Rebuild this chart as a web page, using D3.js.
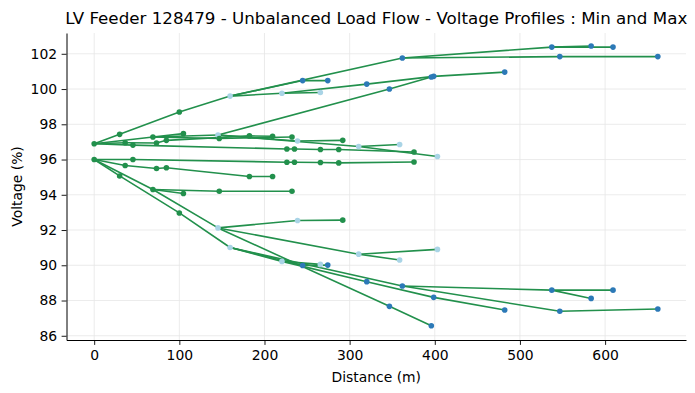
<!DOCTYPE html>
<html>
<head>
<meta charset="utf-8">
<script src="https://cdn.jsdelivr.net/npm/d3@7"></script>
<style>
  body { margin: 0; background: #fff; }
  text { font-family: "DejaVu Sans", sans-serif; fill: #000; }
</style>
</head>
<body>
<svg id="chart"></svg>
<script>
const width = 695;
const height = 393;
const margin = {left: 66.5, right: 9, top: 33, bottom: 53};

// one entry per bus: distance from source, voltage in max / min case, zone, parent bus
const busDist = [0, 29.9, 100, 159.6, 220.5, 265.6, 244.8, 274.3, 361.9, 537.4,
  583.6, 609.3, 546.8, 661.9, 320.1, 398.7, 482.1, 69, 145.4, 346.7,
  395.9, 104.8, 146.9, 232.3, 238.8, 291.9, 310.6, 358.7, 403.1, 45.5,
  226.3, 235.2, 265.7, 287.2, 375.6, 36.4, 73.2, 84.8, 182.3, 209.5];
const busVmax = [96.9, 97.43, 98.70, 99.60, 99.76, 99.80, 100.48, 100.48, 101.76, 102.38,
  102.44, 102.38, 101.84, 101.84, 100.28, 100.72, 100.96, 97.28, 97.39, 100.0,
  100.68, 97.47, 97.19, 97.28, 97.05, 97.09, 96.74, 96.85, 96.17, 96.82,
  96.60, 96.60, 96.57, 96.57, 96.43, 96.95, 96.94, 97.09, 97.34, 97.32];
const busVmin = [96.0, 95.07, 92.97, 91.01, 90.22, 90.05, 89.99, 90.01, 88.82, 88.59,
  88.12, 88.59, 87.39, 87.52, 89.07, 88.18, 87.46, 94.30, 92.12, 87.67,
  86.57, 94.07, 94.20, 94.20, 92.54, 92.56, 90.63, 90.30, 90.90, 96.0,
  95.85, 95.85, 95.83, 95.81, 95.86, 95.66, 95.49, 95.53, 95.04, 95.04];
const busZone = [0, 0, 0, 1, 1, 1, 2, 2, 2, 2,
  2, 2, 2, 2, 2, 2, 2, 0, 1, 2,
  2, 0, 0, 0, 1, 0, 1, 1, 1, 0,
  0, 0, 0, 0, 0, 0, 0, 0, 0, 0];
const busParent = [-1, 0, 1, 2, 3, 4, 3, 6, 3, 8,
  9, 9, 8, 12, 4, 14, 15, 0, 17, 18,
  19, 17, 17, 22, 18, 24, 18, 26, 26, 0,
  29, 30, 31, 32, 33, 0, 35, 36, 37, 38];

const xTicks = [0, 100, 200, 300, 400, 500, 600];
const yTicks = [86, 88, 90, 92, 94, 96, 98, 100, 102];
const zoneColors = ['#22904c', '#a9d4e6', '#2c79b7'];
const lineColor = '#22904c';

const svg = d3.select('#chart')
  .attr('width', width)
  .attr('height', height);

const x = d3.scaleLinear()
  .domain([-32.5, 695])
  .range([margin.left, width - margin.right]);

const y = d3.scaleLinear()
  .domain([85.76, 103.18])
  .range([height - margin.bottom, margin.top]);

// grid
svg.append('g')
  .selectAll('line')
  .data(xTicks)
  .join('line')
  .attr('x1', d => x(d)).attr('x2', d => x(d))
  .attr('y1', margin.top).attr('y2', height - margin.bottom)
  .attr('stroke', '#e6e6e6').attr('stroke-width', 0.8);

svg.append('g')
  .selectAll('line')
  .data(yTicks)
  .join('line')
  .attr('x1', margin.left).attr('x2', width - margin.right)
  .attr('y1', d => y(d)).attr('y2', d => y(d))
  .attr('stroke', '#e6e6e6').attr('stroke-width', 0.8);

// branches: each bus linked to its parent, for both cases
const edges = [];
busParent.forEach((p, i) => {
  if (p < 0) return;
  edges.push({x1: busDist[p], y1: busVmax[p], x2: busDist[i], y2: busVmax[i]});
  edges.push({x1: busDist[p], y1: busVmin[p], x2: busDist[i], y2: busVmin[i]});
});

svg.append('g')
  .selectAll('line')
  .data(edges)
  .join('line')
  .attr('x1', d => x(d.x1)).attr('y1', d => y(d.y1))
  .attr('x2', d => x(d.x2)).attr('y2', d => y(d.y2))
  .attr('stroke', lineColor)
  .attr('stroke-width', 1.6)
  .attr('stroke-linecap', 'round');

const dots = [];
busDist.forEach((d, i) => {
  dots.push({d: d, v: busVmax[i], z: busZone[i]});
  dots.push({d: d, v: busVmin[i], z: busZone[i]});
});

svg.append('g')
  .selectAll('circle')
  .data(dots)
  .join('circle')
  .attr('cx', d => x(d.d))
  .attr('cy', d => y(d.v))
  .attr('r', 2.8)
  .attr('fill', d => zoneColors[d.z]);

// axes
const xAxis = d3.axisBottom(x).tickValues(xTicks).tickSize(4.9).tickPadding(5).tickSizeOuter(0);
const yAxis = d3.axisLeft(y).tickValues(yTicks).tickSize(4.9).tickPadding(4.5).tickSizeOuter(0);

const gx = svg.append('g')
  .attr('transform', `translate(0, ${height - margin.bottom})`)
  .call(xAxis);
const gy = svg.append('g')
  .attr('transform', `translate(${margin.left}, 0)`)
  .call(yAxis);

[gx, gy].forEach(g => {
  g.selectAll('text').attr('font-size', 13.9).attr('font-family', '"DejaVu Sans", sans-serif');
  g.selectAll('line').attr('stroke', '#000').attr('stroke-width', 0.9);
  g.select('.domain').attr('stroke', '#000').attr('stroke-width', 1);
});

svg.append('text')
  .attr('x', (margin.left + width - margin.right) / 2)
  .attr('y', 24)
  .attr('text-anchor', 'middle')
  .attr('font-size', 16.7)
  .text('LV Feeder 128479 - Unbalanced Load Flow - Voltage Profiles : Min and Max');

svg.append('text')
  .attr('x', (margin.left + width - margin.right) / 2)
  .attr('y', 382)
  .attr('text-anchor', 'middle')
  .attr('font-size', 13.9)
  .text('Distance (m)');

svg.append('text')
  .attr('transform', `translate(22, ${(margin.top + height - margin.bottom) / 2}) rotate(-90)`)
  .attr('text-anchor', 'middle')
  .attr('font-size', 13.9)
  .text('Voltage (%)');
</script>
</body>
</html>
